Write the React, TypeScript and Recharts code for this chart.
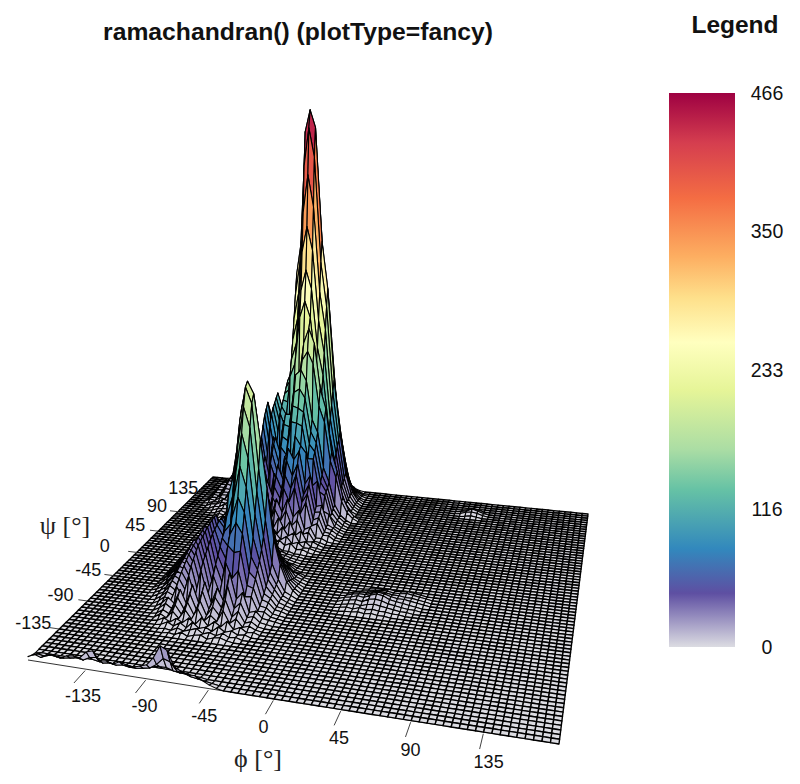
import { BarChart, Bar, Scatter, ScatterChart, XAxis, YAxis } from "recharts";

const phiTicks = [-135, -90, -45, 0, 45, 90, 135];
const psiTicks = [-135, -90, -45, 0, 45, 90, 135];
const legendTicks = [0, 116, 233, 350, 466];
const legendBar = [{ name: "count", value: 466 }];
const paletteStops = [0, 0.097, 0.177, 0.284, 0.357, 0.464, 0.55, 0.63, 0.705, 0.81, 0.91, 1];
const paletteColors = ["#dcdce2", "#5e4fa2", "#3288bd", "#66c2a5", "#abdda4", "#e6f598", "#ffffbf", "#fee08b", "#fdae61", "#f46d43", "#d53e4f", "#9e0142"];

// counts per 5 degree bin: [psi row, first phi column, ...counts]
const frontRows = [
  [0, 0, 3, 6, 4, 7, 8, 6, 9, 10, 9, 15, 17, 9, 10, 8, 11, 9, 8, 10, 12, 19, 30, 27, 14, 11, 9, 9, 6, 3, 1],
  [1, 0, 1, 3, 2, 4, 3, 3, 4, 5, 4, 7, 8, 4, 5, 4, 5, 4, 4, 5, 6, 10, 16, 14, 7, 6, 4, 3, 2, 1],
  [2, 1, 1, 1, 1, 1, 1, 1, 2, 2, 2, 1, 2, 1, 2, 2, 1, 2, 3, 4, 5, 5, 3, 2, 2, 1, 1],
];
const alphaRows = [
  [12, 16, 1, 0, 3, 0, 2, 3, 0, 2, 3, 1],
  [13, 15, 1, 0, 3, 1, 3, 5, 1, 3, 1, 4, 1, 2],
  [14, 14, 1, 4, 1, 5, 1, 7, 2, 4, 1, 6, 2, 4, 1, 2],
  [15, 13, 1, 4, 1, 5, 2, 7, 2, 9, 2, 7, 3, 9, 2, 5, 1, 2],
  [16, 13, 4, 1, 8, 2, 11, 3, 14, 3, 9, 4, 15, 4, 9, 2, 4, 1],
  [17, 12, 1, 5, 2, 11, 3, 15, 4, 18, 5, 14, 7, 22, 7, 13, 3, 5, 1],
  [18, 12, 3, 8, 4, 15, 5, 20, 6, 24, 8, 20, 11, 32, 12, 18, 5, 7, 2, 1],
  [19, 11, 1, 5, 11, 6, 20, 7, 26, 9, 30, 11, 26, 14, 42, 18, 25, 7, 9, 3, 2, 1],
  [20, 11, 3, 8, 5, 19, 10, 31, 12, 38, 15, 34, 18, 48, 34, 42, 18, 19, 6, 6, 2, 1],
  [21, 10, 1, 5, 10, 7, 24, 14, 38, 15, 44, 18, 42, 26, 62, 56, 58, 26, 24, 8, 7, 2, 1],
  [22, 10, 3, 6, 13, 9, 28, 18, 42, 20, 48, 22, 48, 34, 70, 82, 72, 36, 30, 11, 9, 3, 2],
  [23, 9, 1, 4, 8, 15, 11, 31, 20, 46, 24, 52, 26, 54, 42, 84, 104, 90, 48, 36, 14, 10, 3, 2],
  [24, 9, 2, 5, 11, 17, 14, 34, 24, 50, 28, 56, 30, 60, 52, 102, 132, 112, 64, 42, 18, 11, 4, 2],
  [25, 9, 3, 6, 12, 19, 16, 37, 27, 52, 30, 60, 36, 64, 72, 124, 162, 138, 84, 50, 22, 13, 5, 2],
  [26, 9, 3, 8, 13, 21, 19, 39, 30, 54, 32, 62, 44, 76, 96, 148, 186, 166, 104, 60, 26, 15, 5, 2],
  [27, 9, 4, 9, 15, 23, 21, 41, 32, 56, 34, 64, 54, 96, 118, 170, 204, 188, 124, 74, 32, 17, 6, 3],
  [28, 9, 4, 10, 16, 24, 22, 42, 33, 58, 36, 66, 58, 100, 135, 182, 208, 196, 150, 102, 53, 29, 13, 5],
  [29, 9, 5, 11, 18, 26, 24, 44, 34, 59, 37, 66, 56, 94, 124, 170, 192, 178, 130, 86, 44, 25, 11, 4],
  [30, 9, 5, 12, 20, 28, 26, 45, 35, 60, 38, 64, 52, 86, 108, 142, 158, 146, 106, 68, 36, 21, 9, 4],
  [31, 9, 5, 13, 21, 30, 28, 46, 36, 61, 39, 62, 50, 76, 90, 112, 120, 112, 82, 54, 28, 17, 7, 3],
  [32, 9, 4, 12, 22, 32, 30, 48, 37, 60, 38, 58, 46, 68, 74, 86, 88, 82, 60, 42, 22, 14, 5, 2],
  [33, 9, 3, 10, 20, 30, 38, 44, 36, 52, 40, 54, 42, 58, 58, 66, 64, 60, 42, 32, 16, 11, 4, 2],
  [34, 10, 6, 15, 26, 32, 34, 44, 32, 48, 34, 48, 40, 52, 48, 50, 40, 34, 20, 14, 6, 4, 1],
  [35, 10, 3, 10, 18, 24, 26, 36, 26, 40, 28, 40, 34, 44, 38, 38, 28, 24, 13, 9, 3, 2],
  [36, 11, 5, 11, 19, 18, 28, 20, 32, 22, 32, 26, 36, 28, 28, 20, 17, 8, 6, 2],
  [37, 12, 6, 12, 12, 20, 14, 25, 17, 26, 20, 28, 21, 21, 13, 12, 5, 4, 1],
  [38, 13, 6, 9, 13, 11, 19, 13, 21, 15, 22, 15, 16, 9, 8, 3, 2],
  [39, 14, 5, 5, 11, 8, 15, 10, 17, 12, 15, 8, 8, 4, 3, 1],
  [40, 15, 4, 4, 9, 6, 11, 8, 13, 8, 9, 5, 4, 2, 1],
  [41, 16, 3, 3, 7, 4, 9, 6, 9, 5, 5, 3, 2, 1],
  [42, 17, 3, 2, 6, 3, 8, 4, 6, 3, 3, 1, 1],
];
const betaRows = [
  [43, 17, 6, 4, 10, 5, 12, 7, 11, 6, 9, 3, 4, 1],
  [44, 16, 6, 4, 11, 6, 14, 8, 16, 9, 13, 6, 8, 3, 3, 1],
  [45, 15, 6, 3, 11, 7, 16, 10, 20, 12, 20, 11, 15, 5, 7, 2, 1],
  [46, 14, 5, 4, 10, 7, 17, 11, 24, 15, 27, 15, 24, 10, 15, 4, 5, 2],
  [47, 13, 5, 3, 11, 5, 18, 11, 27, 17, 33, 21, 33, 17, 24, 9, 12, 3, 2],
  [48, 12, 3, 6, 3, 14, 7, 22, 14, 34, 22, 42, 28, 43, 24, 32, 12, 15, 4, 4, 1],
  [49, 11, 1, 4, 2, 9, 4, 18, 8, 26, 17, 40, 30, 52, 38, 54, 26, 39, 14, 17, 5, 5, 1],
  [50, 11, 2, 4, 3, 12, 5, 22, 10, 34, 22, 50, 38, 64, 50, 66, 36, 46, 18, 21, 6, 5, 1],
  [51, 10, 1, 3, 2, 7, 13, 7, 27, 13, 42, 26, 60, 46, 78, 62, 76, 42, 54, 24, 25, 8, 6, 2],
  [52, 10, 3, 2, 6, 5, 17, 8, 33, 16, 52, 34, 70, 54, 90, 78, 88, 52, 62, 28, 30, 9, 6, 2],
  [53, 9, 3, 3, 7, 5, 11, 11, 20, 10, 36, 20, 58, 42, 78, 64, 102, 92, 84, 48, 54, 21, 18, 5, 2],
  [54, 8, 3, 2, 7, 4, 12, 6, 24, 12, 44, 24, 66, 48, 86, 78, 116, 115, 112, 76, 76, 40, 36, 13, 6, 2],
  [55, 7, 1, 4, 2, 8, 5, 13, 8, 29, 15, 50, 27, 76, 54, 96, 92, 132, 130, 126, 90, 82, 48, 38, 15, 7, 2],
  [56, 6, 1, 3, 4, 4, 10, 6, 16, 10, 34, 18, 60, 32, 84, 62, 108, 106, 146, 150, 140, 102, 90, 54, 40, 17, 8, 3],
  [57, 6, 3, 3, 7, 3, 11, 7, 18, 12, 38, 21, 66, 38, 90, 70, 118, 118, 164, 170, 158, 114, 100, 60, 44, 19, 8, 3],
  [58, 5, 3, 3, 6, 5, 7, 7, 14, 8, 24, 14, 46, 24, 76, 46, 96, 78, 128, 134, 180, 190, 176, 128, 110, 66, 48, 21, 9, 3],
  [59, 4, 1, 3, 3, 7, 6, 8, 8, 16, 14, 28, 14, 56, 28, 86, 54, 106, 88, 140, 154, 198, 215, 198, 146, 124, 74, 52, 23, 10, 3],
  [60, 4, 3, 2, 6, 5, 12, 6, 18, 10, 32, 16, 68, 34, 98, 62, 112, 96, 156, 172, 226, 245, 226, 166, 140, 84, 56, 25, 10, 3],
  [61, 4, 3, 3, 7, 7, 14, 8, 23, 13, 38, 22, 80, 42, 108, 74, 118, 108, 174, 194, 256, 280, 258, 190, 158, 94, 60, 27, 11, 3],
  [62, 4, 4, 3, 8, 8, 18, 9, 28, 16, 46, 26, 92, 50, 114, 84, 124, 122, 196, 222, 300, 330, 302, 220, 182, 106, 66, 29, 12, 4],
  [63, 4, 4, 4, 10, 9, 21, 12, 32, 20, 52, 34, 102, 62, 118, 94, 130, 136, 220, 252, 346, 390, 352, 252, 208, 120, 72, 31, 12, 4],
  [64, 4, 5, 5, 13, 11, 25, 14, 34, 24, 56, 40, 108, 72, 122, 100, 136, 146, 246, 286, 400, 445, 410, 286, 234, 134, 78, 33, 13, 4],
  [65, 4, 6, 6, 15, 13, 27, 16, 36, 28, 60, 46, 114, 78, 126, 106, 142, 156, 270, 310, 440, 466, 445, 310, 254, 146, 84, 37, 14, 4],
  [66, 4, 7, 7, 16, 12, 29, 15, 34, 26, 56, 42, 104, 72, 112, 94, 130, 136, 238, 270, 390, 440, 400, 278, 228, 130, 76, 33, 13, 4],
  [67, 4, 6, 8, 17, 11, 27, 14, 32, 22, 46, 36, 84, 58, 94, 78, 112, 112, 196, 222, 320, 360, 328, 230, 190, 108, 64, 27, 10, 3],
  [68, 4, 5, 9, 19, 11, 24, 13, 27, 19, 38, 30, 64, 44, 72, 60, 90, 88, 154, 172, 248, 276, 252, 176, 148, 82, 50, 20, 8, 2],
  [69, 4, 4, 7, 17, 13, 20, 11, 22, 16, 31, 23, 48, 32, 54, 44, 68, 64, 112, 122, 176, 194, 178, 124, 104, 56, 35, 14, 6, 2],
  [70, 4, 3, 5, 13, 11, 16, 9, 18, 13, 24, 18, 34, 24, 40, 32, 50, 46, 78, 84, 122, 132, 122, 84, 72, 36, 24, 9, 4, 1],
  [71, 4, 1, 5, 6, 12, 8, 13, 9, 16, 12, 19, 16, 23, 20, 30, 25, 41, 41, 62, 70, 82, 70, 58, 36, 27, 11, 7, 2],
  [72, 4, 1, 3, 4, 7, 5, 9, 7, 11, 8, 13, 10, 16, 12, 19, 15, 25, 23, 35, 35, 42, 34, 30, 18, 13, 5, 3, 1],
];
const patchRows = [
  [25, 39, 1, 1, 2, 1, 2, 1, 1],
  [26, 38, 1, 2, 1, 3, 2, 3, 2, 2, 1, 1],
  [27, 38, 1, 2, 3, 2, 4, 5, 4, 3, 2, 1, 1],
  [28, 38, 2, 3, 4, 3, 6, 7, 6, 4, 3, 2, 1, 1],
  [29, 38, 2, 3, 5, 4, 7, 9, 8, 5, 4, 3, 2, 1],
  [30, 38, 1, 3, 4, 4, 6, 8, 7, 5, 4, 4, 3, 2, 1],
  [31, 39, 2, 3, 3, 5, 6, 5, 4, 4, 3, 3, 2, 1],
  [32, 40, 1, 2, 3, 4, 4, 3, 3, 4, 3, 2, 1],
  [33, 41, 1, 2, 2, 3, 2, 2, 3, 2, 1],
  [65, 51, 1, 2, 1],
  [66, 50, 1, 3, 4, 3, 1],
  [67, 50, 1, 2, 5, 3, 1],
  [68, 51, 1, 3, 2],
];

const BINS = 72;
const WIDTH = 800;
const HEIGHT = 784;
// floor corners on the page, the surface is projected through them
const CORNERS = [[28, 660], [559, 744], [588, 514], [213, 477]];
const Z_SCALE = 1.128;
const Z_LEAN = 0.012;
const phiLabelNudge = [9, 9, 5, -2, 5, 5, 9];
const psiLabelNudge = [-26, -27, -25, -32, -23, -21, -13];
const LABEL_FONT = "'Liberation Sans', Arial, sans-serif";

function hexChannel(hex: string, at: number) {
  return parseInt(hex.slice(at, at + 2), 16);
}

function colorAt(value: number) {
  const t = Math.min(1, Math.max(0, value / 466));
  let k = 0;
  while (k < paletteStops.length - 2 && t > paletteStops[k + 1]) k++;
  const f = (t - paletteStops[k]) / (paletteStops[k + 1] - paletteStops[k]);
  const a = paletteColors[k];
  const b = paletteColors[k + 1];
  const mix = (at: number) => Math.round(hexChannel(a, at) + (hexChannel(b, at) - hexChannel(a, at)) * f);
  return `rgb(${mix(1)},${mix(3)},${mix(5)})`;
}

const [[x0, y0], [x1, y1], [x2, y2], [x3, y3]] = CORNERS;
const dx1 = x1 - x2, dx2 = x3 - x2, sx = x0 - x1 + x2 - x3;
const dy1 = y1 - y2, dy2 = y3 - y2, sy = y0 - y1 + y2 - y3;
const den = dx1 * dy2 - dx2 * dy1;
const g = (sx * dy2 - dx2 * sy) / den;
const h = (dx1 * sy - sx * dy1) / den;

function project(u: number, v: number, z = 0) {
  const w = g * u + h * v + 1;
  const lift = (z * Z_SCALE) / w;
  return {
    x: ((x1 - x0 + g * x1) * u + (x3 - x0 + h * x3) * v + x0) / w - lift * Z_LEAN,
    y: ((y1 - y0 + g * y1) * u + (y3 - y0 + h * y3) * v + y0) / w - lift,
  };
}

const heights: number[][] = Array.from({ length: BINS + 1 }, () => new Array(BINS + 1).fill(0));
[...frontRows, ...alphaRows, ...betaRows, ...patchRows].forEach(([row, col, ...counts]) => {
  counts.forEach((c, k) => {
    heights[row][col + k] = c;
  });
});

// back to front: high psi first, low phi first (camera sits front right)
const cells: any[] = [];
for (let j = BINS - 1; j >= 0; j--) {
  for (let i = 0; i < BINS; i++) {
    const z = [heights[j][i], heights[j][i + 1], heights[j + 1][i + 1], heights[j + 1][i]];
    const mean = (z[0] + z[1] + z[2] + z[3]) / 4;
    const a = project(i / BINS, j / BINS, z[0]);
    const corners = [
      a,
      project((i + 1) / BINS, j / BINS, z[1]),
      project((i + 1) / BINS, (j + 1) / BINS, z[2]),
      project(i / BINS, (j + 1) / BINS, z[3]),
    ].map((p) => ({ dx: p.x - a.x, dy: p.y - a.y }));
    cells.push({ x: a.x, y: a.y, corners, fill: colorAt(mean), flat: mean === 0 });
  }
}

const phiTickData = phiTicks.map((t, k) => ({ ...project((t + 180) / 360, -0.005), end: project((t + 180) / 360, -0.05), label: t, nudge: [phiLabelNudge[k], 13] }));
const psiTickData = psiTicks.map((t, k) => ({ ...project(0, (t + 180) / 360), end: project(-0.022, (t + 180) / 360), label: t, nudge: [psiLabelNudge[k], -6] }));
const frontEdge = [project(0, 0), project(1, 0)];

function CellShape(props: any) {
  const { cx, cy, payload } = props;
  const pts = payload.corners.map((c: any) => `${cx + c.dx},${cy + c.dy}`).join(" ");
  return <polygon points={pts} fill={payload.fill} stroke="#000" strokeWidth={payload.flat ? 1.4 : 1.1} strokeLinejoin="round" />;
}

function TickShape(props: any) {
  const { cx, cy, payload } = props;
  const ex = cx + payload.end.x - payload.x;
  const ey = cy + payload.end.y - payload.y;
  const anchorX = payload.nudge[1] > 0 ? ex : cx;
  const anchorY = payload.nudge[1] > 0 ? ey : cy;
  return (
    <g>
      <line x1={cx} y1={cy} x2={ex} y2={ey} stroke="#444" strokeWidth={1} />
      <text x={anchorX + payload.nudge[0]} y={anchorY + payload.nudge[1]} textAnchor="middle" dominantBaseline="central" fontSize={18} fontFamily={LABEL_FONT} fill="#111">
        {payload.label}
      </text>
    </g>
  );
}

function SurfaceChart() {
  return (
    <ScatterChart width={WIDTH} height={HEIGHT} margin={{ top: 0, right: 0, bottom: 0, left: 0 }}>
      <XAxis type="number" dataKey="x" domain={[0, WIDTH]} hide />
      <YAxis type="number" dataKey="y" domain={[0, HEIGHT]} reversed hide />
      <Scatter data={frontEdge} line={{ stroke: "#333", strokeWidth: 1 }} shape={() => <g />} isAnimationActive={false} />
      <Scatter data={cells} shape={CellShape} isAnimationActive={false} />
      <Scatter data={phiTickData} shape={TickShape} isAnimationActive={false} />
      <Scatter data={psiTickData} shape={TickShape} isAnimationActive={false} />
      <text x={298} y={40} textAnchor="middle" fontSize={24.7} fontWeight="bold" fontFamily={LABEL_FONT} fill="#111">
        ramachandran() (plotType=fancy)
      </text>
      <text x={735} y={33} textAnchor="middle" fontSize={24.5} fontWeight="bold" fontFamily={LABEL_FONT} fill="#111">
        Legend
      </text>
      <text x={65} y={534} textAnchor="middle" fontSize={26} fontFamily="'Liberation Serif', serif" fill="#222">
        ψ [°]
      </text>
      <text x={258} y={767} textAnchor="middle" fontSize={26} fontFamily="'Liberation Serif', serif" fill="#222">
        ϕ [°]
      </text>
    </ScatterChart>
  );
}

function LegendChart() {
  return (
    <BarChart width={131} height={600} data={legendBar} margin={{ top: 23, right: 0, bottom: 23, left: 0 }} barCategoryGap={0}>
      <defs>
        <linearGradient id="legendFill" x1="0" y1="1" x2="0" y2="0">
          {paletteStops.map((s, k) => (
            <stop key={s} offset={s} stopColor={paletteColors[k]} />
          ))}
        </linearGradient>
      </defs>
      <XAxis dataKey="name" hide />
      <YAxis
        orientation="right"
        width={65}
        domain={[0, 466]}
        ticks={legendTicks}
        interval={0}
        axisLine={false}
        tickLine={false}
        tick={{ fontSize: 19.5, fill: "#111", fontFamily: LABEL_FONT, textAnchor: "middle", dx: 24 }}
      />
      <Bar dataKey="value" fill="url(#legendFill)" isAnimationActive={false} />
    </BarChart>
  );
}

export default function App() {
  return (
    <div style={{ position: "absolute", left: 0, top: 0, width: WIDTH, height: HEIGHT, background: "#fff" }}>
      <SurfaceChart />
      <div style={{ position: "absolute", left: 669, top: 70 }}>
        <LegendChart />
      </div>
    </div>
  );
}
